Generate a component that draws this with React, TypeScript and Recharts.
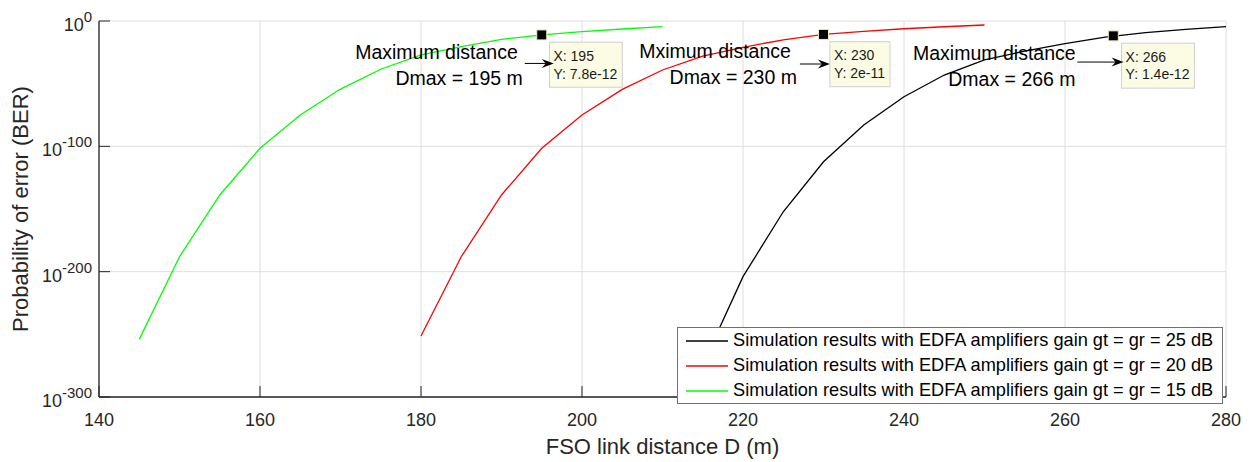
import { ComposedChart, Line, Scatter, XAxis, YAxis, CartesianGrid, Legend } from 'recharts';

const FONT = '"Liberation Sans", Arial, Helvetica, sans-serif';
const AXIS = '#262626';

// BER curves as log10(BER) vs FSO link distance (m)
const dist15 = [145, 150, 155, 160, 165, 170, 175, 180, 185, 190, 195, 200, 205, 210];
const logBer15 = [-254, -188.1, -138.8, -101.6, -75, -54.3, -38.5, -27.1, -20.5, -14.6, -11.1, -8.5, -6.4, -4.5];

const dist20 = [180, 185, 190, 195, 200, 205, 210, 215, 220, 225, 230, 235, 240, 245, 250];
const logBer20 = [-251.3, -188.1, -138.8, -101.6, -75, -54.6, -39.1, -28, -21, -15, -10.7, -8.3, -6.2, -4.6, -3.2];

const dist25 = [215, 220, 225, 230, 235, 240, 245, 250, 255, 260, 265, 270, 275, 280];
const logBer25 = [-274, -204, -152.2, -112.3, -83, -60.4, -43.1, -31.1, -24, -18, -12.9, -9.2, -6.7, -4.5];

const seriesNames = [
  'Simulation results with EDFA amplifiers gain gt = gr = 25 dB',
  'Simulation results with EDFA amplifiers gain gt = gr = 20 dB',
  'Simulation results with EDFA amplifiers gain gt = gr = 15 dB',
];

const xTicks = [140, 160, 180, 200, 220, 240, 260, 280];
const yTicks = [1e-300, 1e-200, 1e-100, 1];

// data tips (maximum distance points)
const maxDist = [195, 230, 266];
const maxBer = [7.8e-12, 2e-11, 1.4e-12];
const maxBerText = ['7.8e-12', '2e-11', '1.4e-12'];
const noteTitle = ['Maximum distance', 'Mximum distance', 'Maximum distance'];

// pixel offsets of the text / arrow / tip box around each marker
const noteLayout = [
  { t1: -24, t2: -19, a0: -17, a1: 12, ay: 28.5, box: 7.7 },
  { t1: -32.6, t2: -26.6, a0: -23.6, a1: 6.4, ay: 29.6, box: 6.4 },
  { t1: -37.7, t2: -37.7, a0: -36, a1: 10.3, ay: 26.2, box: 8.3 },
];

const toRows = (d: number[], lb: number[]) => d.map((v, i) => ({ d: v, ber: Math.pow(10, lb[i]) }));
const rows25 = toRows(dist25, logBer25);
const rows20 = toRows(dist20, logBer20);
const rows15 = toRows(dist15, logBer15);
const maxRows = maxDist.map((d, i) => ({ d, ber: maxBer[i], i }));

let ctx: CanvasRenderingContext2D | null = null;
const textWidth = (s: string, size: number) => {
  if (!ctx) ctx = document.createElement('canvas').getContext('2d');
  if (!ctx) return s.length * size * 0.5;
  ctx.font = `${size}px ${FONT}`;
  return ctx.measureText(s).width;
};

const XTick = ({ x, y, payload }: any) => (
  <g>
    <line x1={x} x2={x} y1={y} y2={y - 11} stroke={AXIS} strokeWidth={1} />
    <text x={x} y={y + 29} textAnchor="middle" fill={AXIS} fontSize={18} fontFamily={FONT}>
      {payload.value}
    </text>
  </g>
);

const YTick = ({ x, y, payload }: any) => {
  const exp = Math.round(Math.log10(payload.value));
  return (
    <g>
      <line x1={x} x2={x + 11} y1={y} y2={y} stroke={AXIS} strokeWidth={1} />
      <text x={x - 7} y={y + 10} textAnchor="end" fill={AXIS} fontSize={18} fontFamily={FONT}>
        10<tspan dy={-9} fontSize={15}>{exp}</tspan>
      </text>
    </g>
  );
};

const TopTick = ({ x, y }: any) => <line x1={x} x2={x} y1={y} y2={y + 11} stroke={AXIS} strokeWidth={1} />;
const RightTick = ({ x, y }: any) => <line x1={x} x2={x - 11} y1={y} y2={y} stroke={AXIS} strokeWidth={1} />;

const MaxMarker = (props: any) => {
  const { cx, cy, payload } = props;
  const i = payload.i;
  const L = noteLayout[i];
  const tipX = `X: ${maxDist[i]}`;
  const tipY = `Y: ${maxBerText[i]}`;
  const w = Math.max(textWidth(tipX, 14), textWidth(tipY, 14)) + 9;
  const bx = cx + L.box;
  const by = cy + 7.3;
  const ay = cy + L.ay;
  const tip = cx + L.a1;
  return (
    <g fontFamily={FONT}>
      <text x={cx + L.t1} y={cy + 24} textAnchor="end" fontSize={19.5} fill="#000">{noteTitle[i]}</text>
      <text x={cx + L.t2} y={cy + 50} textAnchor="end" fontSize={19.5} fill="#000">{`Dmax = ${maxDist[i]} m`}</text>
      <rect x={bx} y={by} width={w} height={45} fill="#fcfce5" stroke="#cfcfcf" strokeWidth={1} />
      <text x={bx + 4} y={by + 18.7} fontSize={14} fill="#1a1a1a">{tipX}</text>
      <text x={bx + 4} y={by + 36.3} fontSize={14} fill="#1a1a1a">{tipY}</text>
      <line x1={cx + L.a0} y1={ay} x2={tip - 7} y2={ay} stroke="#000" strokeWidth={1} />
      <polygon points={`${tip},${ay} ${tip - 12},${ay - 4.5} ${tip - 8},${ay} ${tip - 12},${ay + 4.5}`} fill="#000" />
      <rect x={cx - 5} y={cy - 5} width={10} height={10} fill="#000" stroke="#eeeac4" strokeWidth={1} />
    </g>
  );
};

const LegendBox = ({ payload }: any) => {
  const items = (payload || [])
    .filter((p: any) => p.type !== 'none' && seriesNames.includes(p.value))
    .sort((a: any, b: any) => seriesNames.indexOf(a.value) - seriesNames.indexOf(b.value));
  return (
    <div
      style={{
        width: 546,
        height: 77,
        boxSizing: 'border-box',
        border: '1px solid #707070',
        background: '#fff',
        fontFamily: FONT,
        fontSize: 18.2,
        color: '#000',
      }}
    >
      {items.map((p: any) => (
        <div key={p.value} style={{ height: 25, display: 'flex', alignItems: 'center', whiteSpace: 'nowrap' }}>
          <svg width={42} height={4} style={{ marginLeft: 8, marginRight: 5 }}>
            <line x1={0} x2={42} y1={2} y2={2} stroke={p.color} strokeWidth={1.6} />
          </svg>
          <span>{p.value}</span>
        </div>
      ))}
    </div>
  );
};

export default function App() {
  return (
    <div style={{ position: 'absolute', left: 0, top: 0, background: '#fff' }}>
      <ComposedChart width={1250} height={462} margin={{ top: 21, right: 24, bottom: 0, left: 0 }}>
        <CartesianGrid stroke="#dedede" strokeWidth={1} />
        <XAxis
          dataKey="d"
          type="number"
          domain={[140, 280]}
          ticks={xTicks}
          interval={0}
          allowDataOverflow
          height={65}
          tickSize={0}
          tickMargin={0}
          tick={XTick}
          axisLine={{ stroke: AXIS, strokeWidth: 1.3 }}
          label={(p: any) => (
            <text
              x={p.viewBox.x + p.viewBox.width / 2}
              y={p.viewBox.y + 57}
              textAnchor="middle"
              fontSize={22}
              fontFamily={FONT}
              fill={AXIS}
            >
              FSO link distance D (m)
            </text>
          )}
        />
        <XAxis
          xAxisId="top"
          orientation="top"
          type="number"
          domain={[140, 280]}
          ticks={xTicks}
          interval={0}
          allowDataOverflow
          height={0}
          tickSize={0}
          tickMargin={0}
          tick={TopTick}
          axisLine={{ stroke: AXIS, strokeWidth: 1.3 }}
        />
        <YAxis
          dataKey="ber"
          type="number"
          scale="log"
          domain={[1e-300, 1]}
          ticks={yTicks}
          interval={0}
          allowDataOverflow
          width={99}
          tickSize={0}
          tickMargin={0}
          tick={YTick}
          axisLine={{ stroke: AXIS, strokeWidth: 1.3 }}
          label={(p: any) => (
            <text
              transform={`translate(${p.viewBox.x + 28},${p.viewBox.y + p.viewBox.height / 2}) rotate(-90)`}
              textAnchor="middle"
              fontSize={22}
              fontFamily={FONT}
              fill={AXIS}
            >
              Probability of error (BER)
            </text>
          )}
        />
        <YAxis
          yAxisId="right"
          orientation="right"
          type="number"
          scale="log"
          domain={[1e-300, 1]}
          ticks={yTicks}
          interval={0}
          allowDataOverflow
          width={0}
          tickSize={0}
          tickMargin={0}
          tick={RightTick}
          axisLine={{ stroke: AXIS, strokeWidth: 1.3 }}
        />
        <Line data={rows25} dataKey="ber" name={seriesNames[0]} stroke="#000000" strokeWidth={1.3} dot={false} isAnimationActive={false} />
        <Line data={rows20} dataKey="ber" name={seriesNames[1]} stroke="#ff0000" strokeWidth={1.3} dot={false} isAnimationActive={false} />
        <Line data={rows15} dataKey="ber" name={seriesNames[2]} stroke="#00ff00" strokeWidth={1.3} dot={false} isAnimationActive={false} />
        <Scatter data={maxRows} dataKey="ber" legendType="none" shape={MaxMarker} isAnimationActive={false} />
        <Legend
          layout="vertical"
          align="center"
          verticalAlign="middle"
          wrapperStyle={{ left: 677, top: 327, width: 546, height: 77 }}
          content={LegendBox}
        />
      </ComposedChart>
    </div>
  );
}
